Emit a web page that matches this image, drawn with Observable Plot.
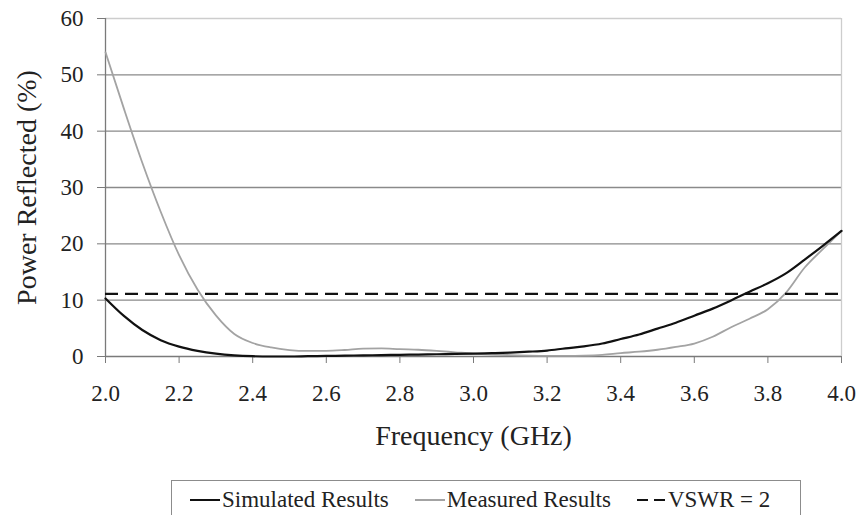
<!DOCTYPE html>
<html>
<head>
<meta charset="utf-8">
<script src="https://cdn.jsdelivr.net/npm/d3@7"></script>
<script src="https://cdn.jsdelivr.net/npm/@observablehq/plot@0.6"></script>
<style>
  html, body { margin: 0; padding: 0; background: #fff; }
  #wrap { position: relative; width: 861px; height: 515px; overflow: hidden; font-family: "Liberation Serif", "DejaVu Serif", "Times New Roman", serif; }
  #legend {
    position: absolute; left: 171px; top: 480px; width: 630px; height: 60px;
    box-sizing: border-box; border: 1.5px solid #8c8c8c; background: #fff;
    display: flex; align-items: flex-start; padding: 6px 0 0 18px;
    font-size: 23px; color: #222; white-space: nowrap;
  }
  .item { display: flex; align-items: center; margin-right: 26px; }
  .sw { width: 30px; height: 0; margin-right: 2px; }
  .dash { width: 11px; height: 0; border-top: 2.5px solid #111; }
  svg text { font-family: "Liberation Serif", "DejaVu Serif", "Times New Roman", serif; }
</style>
</head>
<body>
<div id="wrap">
  <div id="chart"></div>
  <div id="legend">
    <div class="item"><span class="sw" style="border-top:2.5px solid #111"></span>Simulated Results</div>
    <div class="item"><span class="sw" style="border-top:2.5px solid #a3a3a3"></span>Measured Results</div>
    <div class="item"><span class="dash" style="margin-right:6px"></span><span class="dash" style="margin-right:3px"></span>VSWR = 2</div>
  </div>
</div>
<script>
// Frequency sweep (GHz)
const freq = [2.00, 2.05, 2.10, 2.15, 2.20, 2.25, 2.30, 2.35, 2.40, 2.45,
              2.50, 2.55, 2.60, 2.65, 2.70, 2.75, 2.80, 2.85, 2.90, 2.95,
              3.00, 3.05, 3.10, 3.15, 3.20, 3.25, 3.30, 3.35, 3.40, 3.45,
              3.50, 3.55, 3.60, 3.65, 3.70, 3.75, 3.80, 3.85, 3.90, 3.95, 4.00];

// Reflected power (%) from simulation
const simulated = [10.3, 7.2, 4.7, 2.9, 1.75, 1.0, 0.5, 0.2, 0.05, 0.0,
                   0.0, 0.05, 0.1, 0.15, 0.2, 0.25, 0.3, 0.35, 0.4, 0.45,
                   0.5, 0.6, 0.7, 0.85, 1.05, 1.45, 1.8, 2.3, 3.1, 3.9,
                   4.95, 6.0, 7.25, 8.5, 9.95, 11.5, 13.0, 14.8, 17.2, 19.7, 22.3];

// Reflected power (%) measured
const measured = [54.0, 44.0, 34.4, 25.7, 18.0, 11.9, 7.3, 4.0, 2.4, 1.6,
                  1.15, 1.0, 1.0, 1.15, 1.4, 1.45, 1.3, 1.2, 1.0, 0.75,
                  0.5, 0.35, 0.25, 0.15, 0.1, 0.1, 0.15, 0.3, 0.6, 0.85,
                  1.2, 1.7, 2.3, 3.5, 5.2, 6.7, 8.4, 11.4, 15.8, 19.1, 22.3];

// VSWR = 2 corresponds to |Γ| = 1/3, i.e. 11.1 % reflected power
const vswr2Level = [11.1];

const xTicks = [2.0, 2.2, 2.4, 2.6, 2.8, 3.0, 3.2, 3.4, 3.6, 3.8, 4.0];
const yTicks = [0, 10, 20, 30, 40, 50, 60];
const xTitle = "Frequency (GHz)";
const yTitle = "Power Reflected (%)";

const simRows = freq.map((f, i) => ({f, v: simulated[i]}));
const measRows = freq.map((f, i) => ({f, v: measured[i]}));

const serif = "'Liberation Serif', 'DejaVu Serif', 'Times New Roman', serif";

const chart = Plot.plot({
  width: 861,
  height: 470,
  marginLeft: 105,
  marginRight: 20,
  marginTop: 18,
  marginBottom: 114,
  style: {fontFamily: serif, fontSize: "23px", color: "#222", background: "#fff"},
  x: {domain: [2, 4]},
  y: {domain: [0, 60]},
  marks: [
    Plot.ruleY(yTicks.filter(t => t > 0 && t < 60), {stroke: "#8a8a8a", strokeWidth: 1.3}),
    Plot.ruleY([60], {stroke: "#cdcdcd", strokeWidth: 1.3}),
    Plot.ruleX([4], {stroke: "#cdcdcd", strokeWidth: 1.3}),
    Plot.ruleX([2], {stroke: "#7a7a7a", strokeWidth: 1.3}),
    Plot.ruleY([0], {stroke: "#7a7a7a", strokeWidth: 1.3}),
    Plot.axisY({ticks: yTicks, tickSize: 8, tickPadding: 14, stroke: "#7a7a7a", label: null, fontSize: 23, fontFamily: serif}),
    Plot.axisX({ticks: xTicks, tickSize: 7, tickPadding: 21, tickFormat: d => d.toFixed(1), stroke: "#7a7a7a", label: null, fontSize: 23, fontFamily: serif}),
    Plot.lineY(measRows, {x: "f", y: "v", stroke: "#a3a3a3", strokeWidth: 1.8, curve: "monotone-x"}),
    Plot.lineY(simRows, {x: "f", y: "v", stroke: "#111", strokeWidth: 2.2, curve: "monotone-x"}),
    Plot.ruleY(vswr2Level, {stroke: "#111", strokeWidth: 2.2, strokeDasharray: "13,7"}),
    Plot.text([yTitle], {frameAnchor: "left", textAnchor: "middle", lineAnchor: "middle", dx: -78, rotate: -90, fontSize: 28, fontFamily: serif, fill: "#222"}),
    Plot.text([xTitle], {frameAnchor: "bottom", textAnchor: "middle", lineAnchor: "middle", dy: 80, fontSize: 28, fontFamily: serif, fill: "#222"})
  ]
});
document.getElementById("chart").appendChild(chart);
</script>
</body>
</html>
